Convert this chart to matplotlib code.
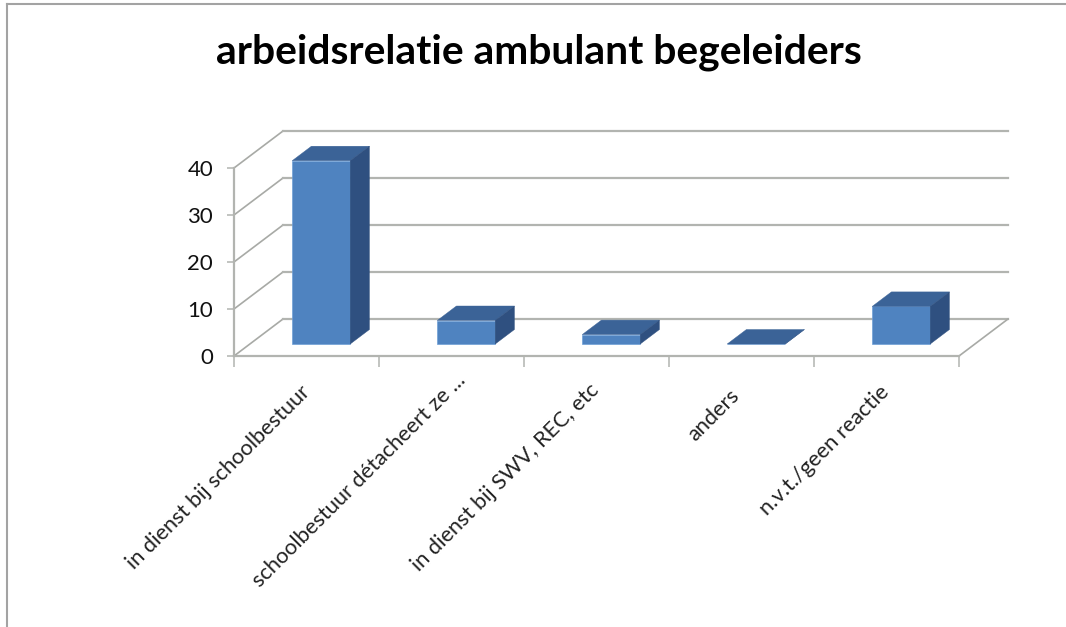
import matplotlib.pyplot as plt
from matplotlib.lines import Line2D
from matplotlib.transforms import ScaledTranslation

categories = ["in dienst bij schoolbestuur", "schoolbestuur détacheert ze ...",
              "in dienst bij SWV, REC, etc", "anders", "n.v.t./geen reactie"]
values = [39, 5, 2, 0, 8]
yticks = [0, 10, 20, 30, 40]
title = "arbeidsrelatie ambulant begeleiders"

W, H = 1066, 627
plt.rcParams['font.family'] = ['Lato', 'DejaVu Sans']
fig = plt.figure(figsize=(W / 100, H / 100), dpi=100)
ax = fig.add_axes([234 / W, 1 - 356 / H, 725 / W, 188 / H])
ax.set_xlim(-0.5, 4.5)
ax.set_ylim(0, 40)
ax.patch.set_visible(False)

# depth of the fake 3d box, in data units
kx = 49 / 145
ky = 37 / 4.7
front = 0.324
back = 0.716
width = 0.4
shift = -0.008
grid = '#b2b4b0'


def proj(x, v, d):
    return x + d * kx, v + d * ky


# walls
for t in yticks:
    x0, y0 = proj(-0.5, t, 0)
    x1, y1 = proj(-0.5, t, 1)
    x2, y2 = proj(4.5, t, 1)
    ax.plot([x0, x1], [y0, y1], color='#a8aaa6', lw=1.2, clip_on=False, zorder=1)
    ax.plot([x1, x2], [y1, y2], color=grid, lw=1.6, clip_on=False, zorder=1)
x0, y0 = proj(4.5, 0, 0)
x1, y1 = proj(4.5, 0, 1)
ax.plot([x0, x1], [y0, y1], color='#a8aaa6', lw=1.2, clip_on=False, zorder=1)

# bars
for i, v in enumerate(values):
    l = i + shift - width / 2
    r = i + shift + width / 2
    xb, yb = proj(i + shift, 0, front)
    ax.bar(xb, v, width, bottom=yb, color='#4f83c0', edgecolor='#6f9fd6', linewidth=0.5,
           clip_on=False, zorder=3)
    top = [proj(l, v, front), proj(r, v, front), proj(r, v, back), proj(l, v, back)]
    side = [proj(r, 0, front), proj(r, 0, back), proj(r, v, back), proj(r, v, front)]
    ax.fill(*zip(*top), color='#3b6397', lw=0.3, clip_on=False, zorder=3)
    ax.fill(*zip(*side), color='#2f5080', lw=0.3, clip_on=False, zorder=3)

for s in ['top', 'right']:
    ax.spines[s].set_visible(False)
for s in ['left', 'bottom']:
    ax.spines[s].set_color(grid)
    ax.spines[s].set_linewidth(1.6)

ax.set_yticks(yticks)
ax.tick_params(axis='y', length=5, width=1.1, color=grid, labelsize=16, pad=10, labelcolor='#111111')
ax.set_xticks(range(len(categories)))
ax.set_xticklabels(categories, rotation=45, ha='right', va='top', rotation_mode='anchor', fontsize=15.7,
                   color='#222222')
ax.tick_params(axis='x', which='major', length=0, pad=20)
ax.set_xticks([-0.5, 0.5, 1.5, 2.5, 3.5, 4.5], minor=True)
ax.tick_params(axis='x', which='minor', length=8, width=1.1, color=grid)

# excel places the rotated labels a bit unevenly, move them by hand (pixels)
nudges = [(-7, 2), (4, 14), (-8, 4), (-12, -2), (-8, 2)]
for lab, (dx, dy) in zip(ax.get_xticklabels(), nudges):
    lab.set_transform(lab.get_transform() + ScaledTranslation(dx / 100, dy / 100, fig.dpi_scale_trans))

fig.text(539 / W, 1 - 52 / H, title, ha='center', va='center', fontsize=29.4, fontweight='bold', color='black')

# chart frame
frame = '#a3a3a3'
fig.add_artist(Line2D([7 / W, 7 / W], [0, 1 - 4 / H], color=frame, lw=1.5))
fig.add_artist(Line2D([7 / W, 1], [1 - 4 / H, 1 - 4 / H], color=frame, lw=1.5))

fig.savefig('out.png', dpi=100)
